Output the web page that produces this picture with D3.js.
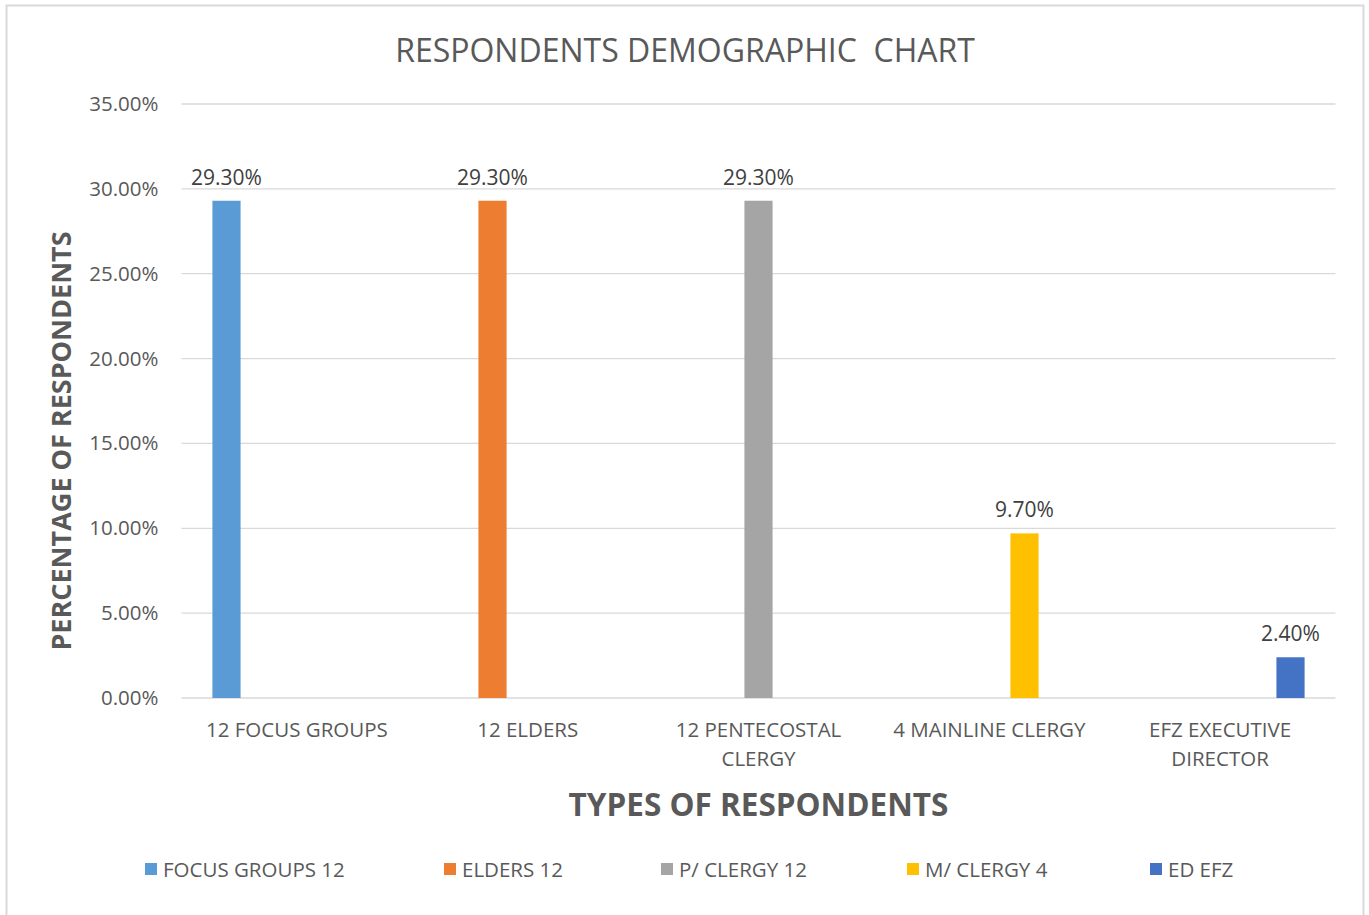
<!DOCTYPE html>
<html>
<head>
<meta charset="utf-8">
<script src="https://cdn.jsdelivr.net/npm/d3@7"></script>
<style>
  body { margin: 0; background: #fff; }
  text { font-family: "Open Sans", "Noto Sans", sans-serif; fill: #595959; }
</style>
</head>
<body>
<div id="chart"></div>
<script>
// categories along the x axis (each one holds only its own series)
var categories = ["12 FOCUS GROUPS", "12 ELDERS", "12 PENTECOSTAL CLERGY", "4 MAINLINE CLERGY", "EFZ EXECUTIVE DIRECTOR"];
var catLines = [["12 FOCUS GROUPS"], ["12 ELDERS"], ["12 PENTECOSTAL", "CLERGY"], ["4 MAINLINE CLERGY"], ["EFZ EXECUTIVE", "DIRECTOR"]];
var seriesNames = ["FOCUS GROUPS 12", "ELDERS 12", "P/ CLERGY 12", "M/ CLERGY 4", "ED EFZ"];
var seriesValues = [0.293, 0.293, 0.293, 0.097, 0.024];
var seriesColors = ["#5b9bd5", "#ed7d31", "#a5a5a5", "#ffc000", "#4472c4"];
var yTicks = [0, 0.05, 0.10, 0.15, 0.20, 0.25, 0.30, 0.35];

var W = 1369, H = 915;
var margin = {left: 181.5, right: 33.5, top: 104, bottom: 217};
var width = W - margin.left - margin.right;
var height = H - margin.top - margin.bottom;

var svg = d3.select("#chart").append("svg")
  .attr("width", W)
  .attr("height", H);

// outer chart border
svg.append("rect")
  .attr("x", 6.5).attr("y", 5.5)
  .attr("width", 1357).attr("height", 920)
  .attr("fill", "none")
  .attr("stroke", "#d9d9d9")
  .attr("stroke-width", 2);

svg.append("text")
  .attr("x", 685).attr("y", 62)
  .attr("text-anchor", "middle")
  .style("font-size", "32px")
  .style("white-space", "pre")
  .text("RESPONDENTS DEMOGRAPHIC  CHART");

var g = svg.append("g").attr("transform", "translate(" + margin.left + "," + margin.top + ")");

var x0 = d3.scaleBand().domain(categories).range([0, width]).paddingInner(0).paddingOuter(0);
var x1 = d3.scaleBand().domain(seriesNames).range([0, x0.bandwidth()]).paddingInner(0.2).paddingOuter(0.878);
var y = d3.scaleLinear().domain([0, 0.35]).range([height, 0]);

// gridlines
g.selectAll(".grid").data(yTicks).enter().append("line")
  .attr("x1", 0).attr("x2", width)
  .attr("y1", function(d) { return y(d); })
  .attr("y2", function(d) { return y(d); })
  .attr("stroke", "#d9d9d9")
  .attr("stroke-width", 1.3);

// y axis labels
var yAxis = d3.axisLeft(y).tickValues(yTicks).tickSize(0).tickPadding(23)
  .tickFormat(function(d) { return d3.format(".2%")(d); });
g.append("g").call(yAxis)
  .call(function(s) { s.select(".domain").remove(); })
  .selectAll("text")
    .style("font-size", "20.5px")
    .attr("fill", "#595959");

// bars: each series only has a value in its own category
g.selectAll(".bar").data(seriesNames).enter().append("rect")
  .attr("x", function(d, i) { return x0(categories[i]) + x1(d); })
  .attr("y", function(d, i) { return y(seriesValues[i]); })
  .attr("width", x1.bandwidth())
  .attr("height", function(d, i) { return height - y(seriesValues[i]); })
  .attr("fill", function(d, i) { return seriesColors[i]; });

// data labels
g.selectAll(".lbl").data(seriesNames).enter().append("text")
  .attr("x", function(d, i) { return x0(categories[i]) + x1(d) + x1.bandwidth() / 2; })
  .attr("y", function(d, i) { return y(seriesValues[i]) - 16; })
  .attr("text-anchor", "middle")
  .style("font-size", "21px")
  .style("fill", "#404040")
  .text(function(d, i) { return d3.format(".2%")(seriesValues[i]); });

// category labels
var cat = g.selectAll(".cat").data(categories).enter().append("text")
  .attr("x", function(d) { return x0(d) + x0.bandwidth() / 2; })
  .attr("y", height + 39)
  .attr("text-anchor", "middle")
  .style("font-size", "20.5px");
cat.each(function(d, i) {
  var t = d3.select(this);
  catLines[i].forEach(function(line, j) {
    t.append("tspan")
      .attr("x", x0(d) + x0.bandwidth() / 2)
      .attr("dy", j === 0 ? 0 : 29)
      .text(line);
  });
});

// axis titles
svg.append("text")
  .attr("x", margin.left + width / 2).attr("y", 816)
  .attr("text-anchor", "middle")
  .style("font-size", "31.5px")
  .style("font-weight", "bold")
  .text("TYPES OF RESPONDENTS");

svg.append("text")
  .attr("transform", "translate(71,441) rotate(-90)")
  .attr("text-anchor", "middle")
  .style("font-size", "27px")
  .style("font-weight", "bold")
  .text("PERCENTAGE OF RESPONDENTS");

// legend
var legendX = [145, 444, 661, 907, 1150];
var legend = svg.selectAll(".leg").data(seriesNames).enter().append("g")
  .attr("transform", function(d, i) { return "translate(" + legendX[i] + ",863)"; });
legend.append("rect")
  .attr("width", 12).attr("height", 12)
  .attr("fill", function(d, i) { return seriesColors[i]; });
legend.append("text")
  .attr("x", 18).attr("y", 14)
  .style("font-size", "20.5px")
  .text(function(d) { return d; });
</script>
</body>
</html>
